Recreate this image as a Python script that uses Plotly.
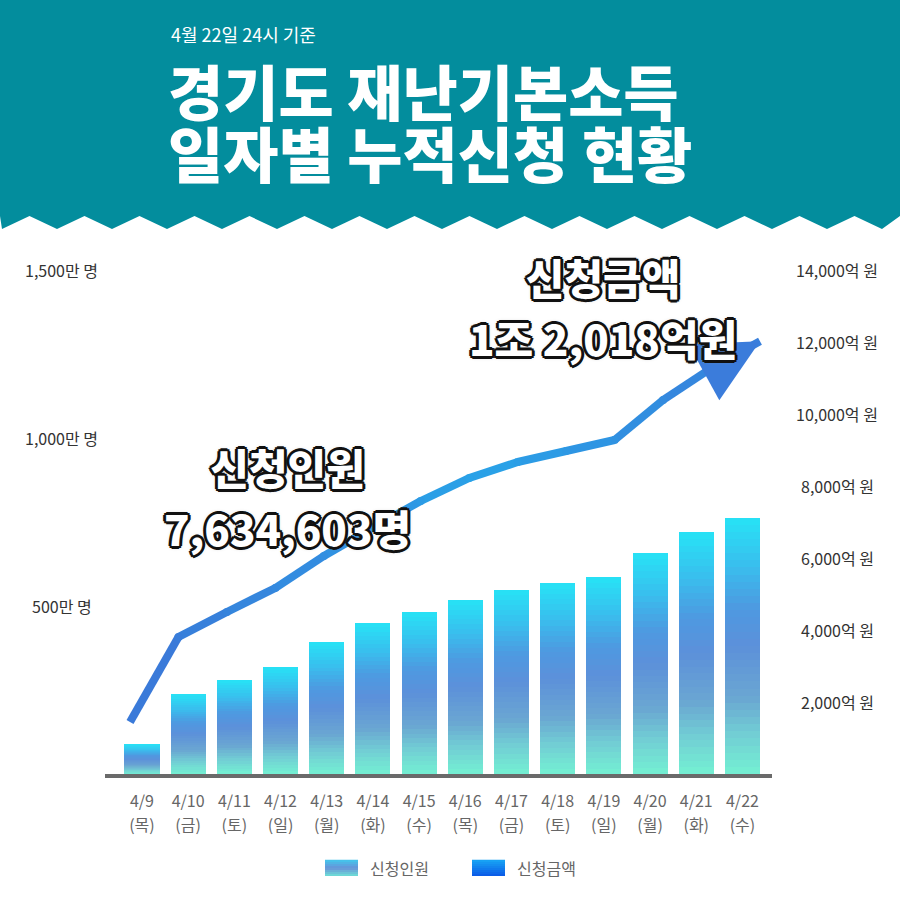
import numpy as np
import plotly.graph_objects as go

# 데이터
dates = ['4/9', '4/10', '4/11', '4/12', '4/13', '4/14', '4/15',
         '4/16', '4/17', '4/18', '4/19', '4/20', '4/21', '4/22']
weekdays = ['목', '금', '토', '일', '월', '화', '수',
            '목', '금', '토', '일', '월', '화', '수']
# 누적 신청인원 (만 명)
applicants = [89, 238, 280, 318, 393, 449, 482, 518, 548, 568, 586, 658, 720, 763.46]
# 누적 신청금액 (억 원)
amounts = [1444, 3806, 4500, 5167, 6056, 6833, 7583, 8222, 8667, 8972, 9278, 10389, 11278, 12018]

left_ticks = [500, 1000, 1500]
left_labels = ['500만 명', '1,000만 명', '1,500만 명']
right_ticks = [2000, 4000, 6000, 8000, 10000, 12000, 14000]
right_labels = ['2,000억 원', '4,000억 원', '6,000억 원', '8,000억 원',
                '10,000억 원', '12,000억 원', '14,000억 원']

total_people = '7,634,603명'
total_amount = '1조 2,018억원'

FONT = 'Noto Sans CJK KR'
W, H = 900, 900
L, R, T, B = 105, 128, 250, 126
PW, PH = W - L - R, H - T - B


def px(x):
    return (x - L) / PW


def py(y):
    return (H - B - y) / PH


def grad(t, stops):
    ts = [s[0] for s in stops]
    rgb = [np.interp(t, ts, [s[1][i] for s in stops]) for i in range(3)]
    return 'rgb(%d,%d,%d)' % tuple(int(round(c)) for c in rgb)


def big(t, size):
    return '<span style="font-size:%dpx">%s</span>' % (size, t)


bar_stops = [(0.0, (116, 240, 210)), (0.15, (114, 207, 212)), (0.3, (106, 166, 210)),
             (0.5, (92, 144, 218)), (0.65, (77, 154, 225)), (0.82, (56, 192, 238)),
             (1.0, (39, 227, 246))]
line_stops = [(0.0, (59, 119, 216)), (0.35, (48, 146, 226)), (0.55, (41, 163, 232)),
              (0.75, (46, 148, 226)), (1.0, (59, 124, 219))]

idx = list(range(len(dates)))
fig = go.Figure()

# 막대: 얇은 조각을 쌓아서 세로 그라데이션 표현
N = 36
for k in range(N):
    fig.add_trace(go.Bar(
        x=idx, y=[v / N for v in applicants], width=0.76,
        marker=dict(color=grad((k + 0.5) / N, bar_stops), line=dict(width=0)),
        showlegend=False, hoverinfo='skip', yaxis='y', xaxis='x'))

# 선: 구간별 색으로 그라데이션
n = len(amounts)
for i in range(n - 1):
    c = grad((i + 0.5) / (n - 1), line_stops)
    fig.add_trace(go.Scatter(
        x=idx[i:i + 2], y=amounts[i:i + 2], mode='lines',
        line=dict(color=c, width=8), showlegend=False, hoverinfo='skip',
        xaxis='x2', yaxis='y2'))
fig.add_trace(go.Scatter(
    x=idx[1:-1], y=amounts[1:-1], mode='markers',
    marker=dict(size=8, color=[grad(i / (n - 1), line_stops) for i in idx[1:-1]]),
    showlegend=False, hoverinfo='skip', xaxis='x2', yaxis='y2'))

# 요일 라벨용 보조 축
fig.add_trace(go.Scatter(x=idx, y=[0] * len(idx), mode='none', showlegend=False,
                         hoverinfo='skip', xaxis='x3', yaxis='y'))

ann = []
# 화살표 머리
ann.append(dict(x=idx[-1], y=amounts[-1], xref='x2', yref='y2',
                ax=idx[-2], ay=amounts[-2], axref='x2', ayref='y2',
                showarrow=True, arrowhead=2, arrowsize=1.6, arrowwidth=8,
                arrowcolor='rgb(59,124,219)', text=''))

# 축 라벨
for v, t in zip(left_ticks, left_labels):
    ann.append(dict(x=px(62), y=v, xref='paper', yref='y', text=t, showarrow=False,
                    xanchor='center', font=dict(family=FONT, size=16, color='#333')))
for v, t in zip(right_ticks, right_labels):
    ann.append(dict(x=px(837), y=v, xref='paper', yref='y2', text=t, showarrow=False,
                    xanchor='center', font=dict(family=FONT, size=16, color='#333')))

# 헤더 텍스트
ann.append(dict(x=px(169), y=py(34), xref='paper', yref='paper', text='4월 22일 24시 기준',
                showarrow=False, xanchor='left', yanchor='middle',
                font=dict(family=FONT, size=18, color='white')))
# 줄간격을 좁히려고 기본 글자 크기는 작게, 실제 글자는 span으로 키움
title = big('경기도 재난기본소득', 60) + '<br>' + big('일자별 누적신청 현황', 60)
ann.append(dict(x=px(166), y=py(121), xref='paper', yref='paper', text=title,
                showarrow=False, xanchor='left', yanchor='middle', align='left',
                font=dict(family=FONT, size=48, color='white', weight=900)))

# 강조 텍스트 (외곽선)
outline = ('-2px -2px 0 #111, 2px -2px 0 #111, -2px 2px 0 #111, 2px 2px 0 #111, '
           '0 3px 0 #111, 0 -3px 0 #111, 3px 0 0 #111, -3px 0 0 #111, 0 0 5px #999')
for xx, yy, t1, t2 in [(287, 497, '신청인원', total_people),
                       (603, 307, '신청금액', total_amount)]:
    ann.append(dict(x=px(xx), y=py(yy), xref='paper', yref='paper',
                    text=big(t1, 42) + '<br>' + big(t2, 42),
                    showarrow=False, xanchor='center', yanchor='middle', align='center',
                    font=dict(family=FONT, size=47, color='white', weight=900,
                              shadow=outline)))

# 범례
ann.append(dict(x=px(368), y=py(868), xref='paper', yref='paper', text='신청인원',
                showarrow=False, xanchor='left', yanchor='middle',
                font=dict(family=FONT, size=16, color='#666')))
ann.append(dict(x=px(515), y=py(868), xref='paper', yref='paper', text='신청금액',
                showarrow=False, xanchor='left', yanchor='middle',
                font=dict(family=FONT, size=16, color='#666')))

shapes = []
# 헤더 배경 (지그재그)
zz = []
xv = 2 - 55
while xv < 960:
    zz.append((xv, 229))
    zz.append((xv + 27.5, 216))
    xv += 55
zz = [(min(max(a, 0), 900), b) for a, b in zz]
path = 'M %f %f L %f %f ' % (px(0), py(0), px(900), py(0))
for a, b in reversed(zz):
    path += 'L %f %f ' % (px(a), py(b))
path += 'Z'
shapes.append(dict(type='path', path=path, xref='paper', yref='paper',
                   fillcolor='#038D9D', line=dict(width=0), layer='below'))

# 범례 견본
sw1 = [(0.0, (110, 225, 214)), (0.5, (104, 146, 216)), (1.0, (66, 200, 236))]
sw2 = [(0.0, (10, 88, 230)), (1.0, (24, 166, 245))]
S = 8
for j in range(S):
    y0 = 876 - j * 16 / S
    y1 = y0 - 16 / S - 0.3
    shapes.append(dict(type='rect', xref='paper', yref='paper', x0=px(325), x1=px(358),
                       y0=py(y0), y1=py(y1), fillcolor=grad((j + 0.5) / S, sw1),
                       line=dict(width=0)))
    shapes.append(dict(type='rect', xref='paper', yref='paper', x0=px(472), x1=px(505),
                       y0=py(y0), y1=py(y1), fillcolor=grad((j + 0.5) / S, sw2),
                       line=dict(width=0)))

tick_font = dict(family=FONT, size=16, color='#666')
fig.update_layout(
    width=W, height=H, margin=dict(l=L, r=R, t=T, b=B),
    paper_bgcolor='white', plot_bgcolor='rgba(0,0,0,0)',
    barmode='stack', bargap=0, showlegend=False,
    font=dict(family=FONT),
    xaxis=dict(range=[-0.8, 13.64], tickvals=idx, ticktext=dates,
               showline=True, linewidth=4, linecolor='#6a6a6a', showgrid=False,
               zeroline=False, ticks='', ticklabelstandoff=10, tickfont=tick_font),
    xaxis3=dict(range=[-0.8, 13.64], tickvals=idx,
                ticktext=['(%s)' % w for w in weekdays], overlaying='x', side='bottom',
                showline=False, showgrid=False, zeroline=False, ticks='',
                ticklabelstandoff=40, tickfont=tick_font),
    xaxis2=dict(range=[-0.516, 13.248], overlaying='x', visible=False),
    yaxis=dict(range=[0, 1560], visible=False),
    yaxis2=dict(range=[0, 14555], overlaying='y', side='right', visible=False),
    annotations=ann, shapes=shapes,
)

fig.write_html('out.html', config={'displayModeBar': False},
               post_script="document.body.style.margin='0';")
